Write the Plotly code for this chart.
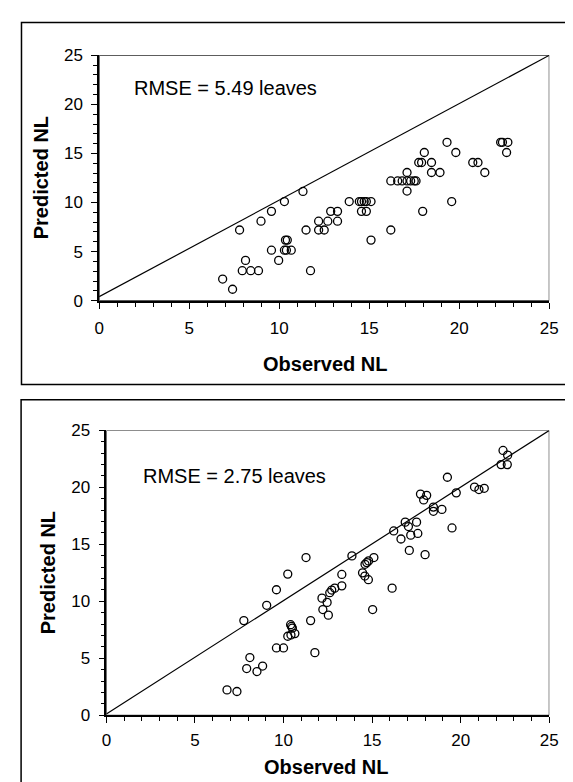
import plotly.graph_objects as go

# ---- Data ----
obs_top = [6.86, 7.41, 7.80, 8.13, 7.95, 8.42, 8.85, 8.99, 9.57, 9.57, 9.97, 10.29,
           10.35, 10.45, 10.29, 10.40, 10.67, 11.32, 11.49, 11.74, 12.19, 12.19, 12.50,
           12.70, 12.86, 13.24, 13.24, 13.89, 14.45, 14.57, 14.72, 14.84, 15.10, 14.57,
           14.84, 15.10, 16.20, 16.20, 16.58, 16.83, 17.10, 17.30, 17.50, 17.60, 17.10,
           17.10, 17.75, 17.91, 18.06, 17.97, 18.46, 18.46, 18.93, 19.32, 19.58, 19.81,
           20.75, 21.04, 21.42, 22.30, 22.40, 22.70, 22.63]
pred_top = [2.20, 1.16, 7.20, 4.10, 3.05, 3.05, 3.05, 8.10, 9.10, 5.14, 4.10, 10.10,
            6.17, 6.17, 5.14, 5.14, 5.14, 11.13, 7.20, 3.05, 8.10, 7.20, 7.20,
            8.10, 9.10, 9.10, 8.10, 10.10, 10.10, 10.10, 10.10, 10.10, 10.10, 9.10,
            9.10, 6.17, 7.20, 12.20, 12.20, 12.20, 12.20, 12.20, 12.20, 12.20, 13.06,
            11.17, 14.08, 14.08, 15.10, 9.10, 14.08, 13.06, 13.06, 16.14, 10.10, 15.10,
            14.08, 14.08, 13.06, 16.14, 16.14, 16.14, 15.10]

obs_bot = [6.81, 7.37, 7.76, 8.10, 7.92, 8.50, 8.82, 9.05, 9.60, 9.60, 10.00, 10.24,
           10.40, 10.45, 10.50, 10.24, 10.42, 10.64, 11.27, 11.53, 11.77, 12.17, 12.22,
           12.46, 12.53, 12.61, 12.72, 12.89, 13.29, 13.29, 13.86, 14.46, 14.59, 14.79,
           14.60, 14.70, 14.80, 15.10, 15.03, 16.13, 16.22, 16.63, 16.87, 17.05, 17.18,
           17.10, 17.51, 17.58, 17.73, 17.91, 18.08, 17.99, 18.46, 18.46, 18.94, 19.25,
           19.51, 19.75, 20.78, 21.03, 21.33, 22.39, 22.65, 22.28, 22.63]
pred_bot = [2.23, 2.09, 8.31, 5.07, 4.10, 3.84, 4.32, 9.65, 11.02, 5.91, 5.91, 12.39,
            7.95, 7.80, 7.65, 6.94, 7.05, 7.17, 13.84, 8.31, 5.50, 10.28, 9.28,
            9.91, 8.79, 10.76, 10.99, 11.16, 12.36, 11.36, 13.99, 12.50, 12.22, 11.90,
            13.25, 13.40, 13.55, 13.84, 9.28, 11.16, 16.18, 15.47, 16.95, 16.56, 15.81,
            14.47, 16.95, 15.96, 19.41, 18.90, 19.30, 14.10, 18.27, 17.90, 18.07, 20.89,
            16.44, 19.52, 20.03, 19.81, 19.92, 23.24, 22.83, 22.00, 22.00]

rmse_labels = ["RMSE = 5.49 leaves", "RMSE = 2.75 leaves"]
x_title = "Observed NL"
y_title = "Predicted NL"
tick_vals = [0, 5, 10, 15, 20, 25]

W, H = 573, 782
FONT = "Liberation Sans, Arial, sans-serif"

def px(v):
    return v / W

def py(v):
    return 1 - v / H

fig = go.Figure()

marker = dict(symbol="circle-open", size=8, color="black", line=dict(width=1.3, color="black"))
fig.add_trace(go.Scatter(x=obs_top, y=pred_top, mode="markers", marker=marker,
                         xaxis="x", yaxis="y", showlegend=False, cliponaxis=False))
fig.add_trace(go.Scatter(x=obs_bot, y=pred_bot, mode="markers", marker=marker,
                         xaxis="x2", yaxis="y2", showlegend=False, cliponaxis=False))

def xax(domain, anchor, standoff):
    return dict(domain=domain, anchor=anchor, range=[0, 25], tickvals=tick_vals,
                showgrid=False, zeroline=False, showline=True, linecolor="black",
                linewidth=2, ticks="outside", ticklen=6, tickwidth=1.3, tickcolor="black",
                minor=dict(dtick=1, ticks="outside", ticklen=4, tickwidth=1.1, tickcolor="black",
                           showgrid=False),
                tickfont=dict(family=FONT, size=17, color="black"),
                ticklabelstandoff=standoff, fixedrange=True)

def yax(domain, anchor):
    return dict(domain=domain, anchor=anchor, range=[0, 25], tickvals=tick_vals,
                showgrid=False, zeroline=False, showline=True, linecolor="black",
                linewidth=1.5, ticks="outside", ticklen=6, tickwidth=1.3, tickcolor="black",
                minor=dict(dtick=1, ticks="outside", ticklen=4, tickwidth=1.1, tickcolor="black",
                           showgrid=False),
                tickfont=dict(family=FONT, size=17, color="black"),
                ticklabelstandoff=5, fixedrange=True)

top_x = [px(88.3), px(549.7)]
top_y = [py(290.7), py(39.3)]
bot_x = [px(95.7), px(549.7)]
bot_y = [py(715.7), py(423.7)]

shapes = []
# outer frames
shapes.append(dict(type="rect", xref="paper", yref="paper", x0=px(8.7), x1=1.02,
                   y0=py(376.7), y1=py(5.7), line=dict(color="black", width=1.5)))
shapes.append(dict(type="rect", xref="paper", yref="paper", x0=px(8.3), x1=1.02,
                   y0=-0.02, y1=py(392.3), line=dict(color="black", width=1.5)))
# plot area borders
shapes.append(dict(type="rect", xref="x", yref="y", x0=0, x1=25, y0=0, y1=25,
                   line=dict(color="black", width=1), layer="below"))
shapes.append(dict(type="rect", xref="x2", yref="y2", x0=0, x1=25, y0=0, y1=25,
                   line=dict(color="black", width=1), layer="below"))
# 1:1 lines
shapes.append(dict(type="line", xref="x", yref="y", x0=0, y0=0.4, x1=25, y1=25,
                   line=dict(color="black", width=1.2)))
shapes.append(dict(type="line", xref="x2", yref="y2", x0=0, y0=0.12, x1=25, y1=25,
                   line=dict(color="black", width=1.2)))

annotations = [
    dict(text=rmse_labels[0], xref="x", yref="y", x=1.85, y=21.7, xanchor="left",
         yanchor="middle", showarrow=False, font=dict(family=FONT, size=20, color="black")),
    dict(text=rmse_labels[1], xref="x2", yref="y2", x=1.94, y=21.0, xanchor="left",
         yanchor="middle", showarrow=False, font=dict(family=FONT, size=20, color="black")),
    dict(text="<b>%s</b>" % x_title, xref="paper", yref="paper", x=px(319.5), y=py(355.7),
         xanchor="center", yanchor="middle", showarrow=False,
         font=dict(family=FONT, size=20, color="black")),
    dict(text="<b>%s</b>" % x_title, xref="paper", yref="paper", x=px(320.5), y=py(769),
         xanchor="center", yanchor="middle", showarrow=False,
         font=dict(family=FONT, size=20, color="black")),
    dict(text="<b>%s</b>" % y_title, xref="paper", yref="paper", x=px(29), y=py(165),
         xanchor="center", yanchor="middle", textangle=-90, showarrow=False,
         font=dict(family=FONT, size=20, color="black")),
    dict(text="<b>%s</b>" % y_title, xref="paper", yref="paper", x=px(36), y=py(570),
         xanchor="center", yanchor="middle", textangle=-90, showarrow=False,
         font=dict(family=FONT, size=20, color="black")),
]

fig.update_layout(
    width=W, height=H,
    margin=dict(l=0, r=0, t=0, b=0, pad=0),
    paper_bgcolor="white", plot_bgcolor="white",
    xaxis=xax(top_x, "y", 5), yaxis=yax(top_y, "x"),
    xaxis2=xax(bot_x, "y2", 2), yaxis2=yax(bot_y, "x2"),
    shapes=shapes, annotations=annotations,
    font=dict(family=FONT, color="black"),
)

fig.write_html("out.html", config={"displayModeBar": False})
